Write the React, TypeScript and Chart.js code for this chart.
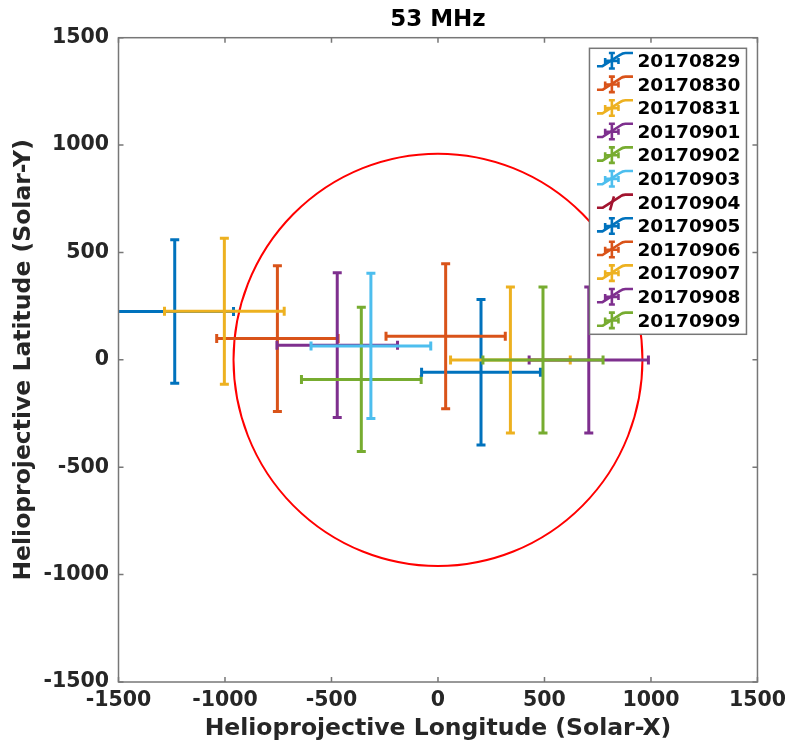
import React, { useEffect, useRef } from "react";
import { Chart, registerables } from "chart.js";

Chart.register(...registerables);

// ---- data ----
const dates = [
  "20170829", "20170830", "20170831", "20170901", "20170902", "20170903",
  "20170904", "20170905", "20170906", "20170907", "20170908", "20170909",
];
const xCenter = [-1236, -754, -1003, -473, -360, -315, NaN, 202, 36, 340, 708, 493];
const xError = [276, 285, 281, 283, 281, 281, NaN, 279, 280, 281, 280, 282];
const yCenter = [225, 99, 226, 68, -91, 65, NaN, -58, 110, -1, -1, -1];
const yError = [334, 339, 340, 337, 336, 338, NaN, 339, 338, 340, 340, 340];
const xTicks = [-1500, -1000, -500, 0, 500, 1000, 1500];
const yTicks = [-1500, -1000, -500, 0, 500, 1000, 1500];
const limbRadius = 960;
const titleText = "53 MHz";
const xLabel = "Helioprojective Longitude (Solar-X)";
const yLabel = "Helioprojective Latitude (Solar-Y)";

const palette = ["#0072BD", "#D95319", "#EDB120", "#7E2F8E", "#77AC30", "#4DBEEE", "#A2142F"];
const FONT = "'DejaVu Sans', sans-serif";
const AXIS_COLOR = "#262626";
const BOX_COLOR = "#777777";

const limbPlugin = {
  id: "limb",
  beforeDatasetsDraw(chart: any) {
    const { ctx, chartArea, scales } = chart;
    const x = scales.x, y = scales.y;
    const cx = x.getPixelForValue(0);
    const cy = y.getPixelForValue(0);
    const rx = Math.abs(x.getPixelForValue(limbRadius) - cx);
    const ry = Math.abs(y.getPixelForValue(limbRadius) - cy);
    ctx.save();
    ctx.beginPath();
    ctx.rect(chartArea.left, chartArea.top, chartArea.right - chartArea.left, chartArea.bottom - chartArea.top);
    ctx.clip();
    ctx.beginPath();
    ctx.ellipse(cx, cy, rx, ry, 0, 0, Math.PI * 2);
    ctx.strokeStyle = "#FF0000";
    ctx.lineWidth = 2;
    ctx.stroke();
    ctx.restore();
  },
};

const boxPlugin = {
  id: "axesBox",
  afterDatasetsDraw(chart: any) {
    const { ctx, chartArea, scales } = chart;
    const { left, right, top, bottom } = chartArea;
    ctx.save();
    ctx.strokeStyle = BOX_COLOR;
    ctx.lineWidth = 1.5;
    ctx.strokeRect(left, top, right - left, bottom - top);
    const tl = 5;
    ctx.beginPath();
    xTicks.forEach((v) => {
      const px = scales.x.getPixelForValue(v);
      ctx.moveTo(px, bottom);
      ctx.lineTo(px, bottom - tl);
      ctx.moveTo(px, top);
      ctx.lineTo(px, top + tl);
    });
    yTicks.forEach((v) => {
      const py = scales.y.getPixelForValue(v);
      ctx.moveTo(left, py);
      ctx.lineTo(left + tl, py);
      ctx.moveTo(right, py);
      ctx.lineTo(right - tl, py);
    });
    ctx.stroke();
    ctx.restore();
  },
};

const legendPlugin = {
  id: "errLegend",
  afterDraw(chart: any) {
    const { ctx, chartArea } = chart;
    const w = 157;
    const rowH = 23.6;
    const h = 286;
    const bx = chartArea.right - 11 - w;
    const by = chartArea.top + 10.6;
    ctx.save();
    ctx.fillStyle = "#FFFFFF";
    ctx.fillRect(bx, by, w, h);
    ctx.strokeStyle = BOX_COLOR;
    ctx.lineWidth = 1.5;
    ctx.strokeRect(bx, by, w, h);
    ctx.font = `bold 18.5px ${FONT}`;
    ctx.textBaseline = "middle";
    ctx.textAlign = "left";
    dates.forEach((d, i) => {
      const c = by + 13.4 + i * rowH;
      const color = palette[i % palette.length];
      const hasBars = isFinite(xCenter[i]);
      ctx.strokeStyle = color;
      ctx.lineWidth = 2.6;
      ctx.lineCap = "butt";
      ctx.lineJoin = "round";
      ctx.beginPath();
      ctx.moveTo(bx + 7.5, c + 4.5);
      ctx.lineTo(bx + 13, c + 4.5);
      ctx.lineTo(bx + 31, c - 7);
      ctx.quadraticCurveTo(bx + 33, c - 8.5, bx + 36, c - 8.7);
      ctx.lineTo(bx + 43.5, c - 8.7);
      ctx.stroke();
      ctx.beginPath();
      if (hasBars) {
        const vx = bx + 22.4;
        ctx.moveTo(vx, c - 8.7);
        ctx.lineTo(vx, c + 6.8);
        ctx.moveTo(vx - 3, c - 8.7);
        ctx.lineTo(vx + 3, c - 8.7);
        ctx.moveTo(vx - 3, c + 6.8);
        ctx.lineTo(vx + 3, c + 6.8);
        ctx.moveTo(bx + 15.7, c - 0.8);
        ctx.lineTo(bx + 29, c - 0.8);
        ctx.moveTo(bx + 15.7, c - 3.8);
        ctx.lineTo(bx + 15.7, c + 2.2);
        ctx.moveTo(bx + 29, c - 3.8);
        ctx.lineTo(bx + 29, c + 2.2);
      } else {
        ctx.moveTo(bx + 20.5, c + 7);
        ctx.lineTo(bx + 24.5, c - 7);
      }
      ctx.stroke();
      ctx.fillStyle = "#000000";
      ctx.fillText(d, bx + 48, c + 0.5);
    });
    ctx.restore();
  },
};

export default function App() {
  const canvasRef = useRef<HTMLCanvasElement | null>(null);

  useEffect(() => {
    const canvas = canvasRef.current;
    if (!canvas) return;

    const datasets: any[] = [];
    dates.forEach((d, i) => {
      if (!isFinite(xCenter[i])) return;
      const color = palette[i % palette.length];
      const common = {
        label: d,
        borderColor: color,
        backgroundColor: color,
        borderWidth: 3,
        pointStyle: "line",
        pointRadius: 4.5,
        pointHoverRadius: 4.5,
        pointBorderColor: color,
        pointBackgroundColor: color,
        pointBorderWidth: 3,
        showLine: true,
        fill: false,
        tension: 0,
        clip: 0,
      };
      datasets.push({
        ...common,
        data: [
          { x: xCenter[i] - xError[i], y: yCenter[i] },
          { x: xCenter[i] + xError[i], y: yCenter[i] },
        ],
        pointRotation: 90,
        order: 1000 - 2 * i,
      });
      datasets.push({
        ...common,
        data: [
          { x: xCenter[i], y: yCenter[i] - yError[i] },
          { x: xCenter[i], y: yCenter[i] + yError[i] },
        ],
        pointRotation: 0,
        order: 999 - 2 * i,
      });
    });

    const tickFont = { family: FONT, size: 20.5, weight: "bold" as const };
    const labelFont = { family: FONT, size: 23.5, weight: "bold" as const };
    const titleFont = { family: FONT, size: 23, weight: "bold" as const };

    const chart = new Chart(canvas, {
      type: "scatter",
      data: { datasets },
      options: {
        animation: false,
        responsive: false,
        events: [],
        layout: { padding: { left: 0, right: 32.7, top: 0, bottom: 0 } },
        plugins: {
          legend: { display: false },
          tooltip: { enabled: false },
          title: {
            display: true,
            text: titleText,
            fullSize: false,
            color: "#000000",
            font: titleFont,
            padding: { top: 6.2, bottom: 3.9 },
          },
        },
        scales: {
          x: {
            type: "linear",
            position: "bottom",
            min: xTicks[0],
            max: xTicks[xTicks.length - 1],
            grid: { display: false, drawTicks: false },
            border: { display: false },
            afterBuildTicks: (scale: any) => {
              scale.ticks = xTicks.map((v) => ({ value: v }));
            },
            afterFit: (scale: any) => {
              scale.height = 61;
            },
            ticks: {
              autoSkip: false,
              maxRotation: 0,
              minRotation: 0,
              padding: 6,
              color: AXIS_COLOR,
              font: tickFont,
              callback: (v: any) => String(v),
            },
            title: {
              display: true,
              text: xLabel,
              color: AXIS_COLOR,
              font: labelFont,
              padding: { top: 0, bottom: 0 },
            },
          },
          y: {
            type: "linear",
            position: "left",
            min: yTicks[0],
            max: yTicks[yTicks.length - 1],
            grid: { display: false, drawTicks: false },
            border: { display: false },
            afterBuildTicks: (scale: any) => {
              scale.ticks = yTicks.map((v) => ({ value: v }));
            },
            afterFit: (scale: any) => {
              scale.width = 118.5;
            },
            ticks: {
              autoSkip: false,
              padding: 9.5,
              color: AXIS_COLOR,
              font: tickFont,
              callback: (v: any) => String(v),
            },
            title: {
              display: true,
              text: yLabel,
              color: AXIS_COLOR,
              font: labelFont,
              padding: { top: 10, bottom: 0 },
            },
          },
        },
      } as any,
      plugins: [limbPlugin, boxPlugin, legendPlugin],
    });

    return () => {
      chart.destroy();
    };
  }, []);

  return (
    <div style={{ position: "absolute", left: 0, top: 0, width: 792, height: 743, background: "#FFFFFF" }}>
      <canvas ref={canvasRef} width={792} height={743} style={{ display: "block" }} />
    </div>
  );
}
